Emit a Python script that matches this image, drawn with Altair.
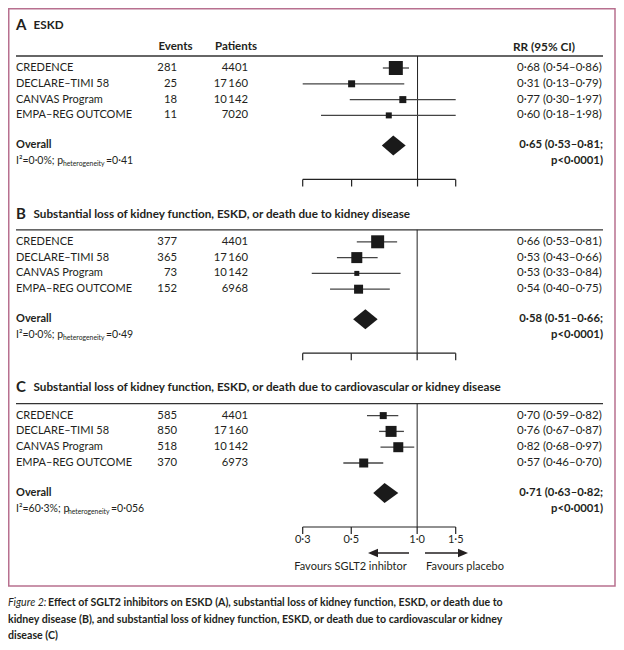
import altair as alt
import pandas as pd

# ---------------- data ----------------
studies = ["CREDENCE", "DECLARE–TIMI 58", "CANVAS Program", "EMPA–REG OUTCOME"]

a_events = [281, 25, 18, 11]
a_patients = [4401, 17160, 10142, 7020]
a_rr = [0.68, 0.31, 0.77, 0.60]
a_lo = [0.54, 0.13, 0.30, 0.18]
a_hi = [0.86, 0.79, 1.97, 1.98]
a_box = [196, 49, 49, 36]

b_events = [377, 365, 73, 152]
b_patients = [4401, 17160, 10142, 6968]
b_rr = [0.66, 0.53, 0.53, 0.54]
b_lo = [0.53, 0.43, 0.33, 0.40]
b_hi = [0.81, 0.66, 0.84, 0.75]
b_box = [169, 121, 25, 81]

c_events = [585, 850, 518, 370]
c_patients = [4401, 17160, 10142, 6973]
c_rr = [0.70, 0.76, 0.82, 0.57]
c_lo = [0.59, 0.67, 0.68, 0.46]
c_hi = [0.82, 0.87, 0.97, 0.70]
c_box = [49, 121, 100, 81]

panel_letters = ["A", "B", "C"]
panel_titles = [
    "ESKD",
    "Substantial loss of kidney function, ESKD, or death due to kidney disease",
    "Substantial loss of kidney function, ESKD, or death due to cardiovascular or kidney disease",
]
overall_rr = [0.65, 0.58, 0.71]
overall_lo = [0.53, 0.51, 0.63]
overall_hi = [0.81, 0.66, 0.82]
overall_p = ["p<0·0001)", "p<0·0001)", "p<0·0001)"]
i_squared = ["0·0%", "0·0%", "60·3%"]
p_heterogeneity = ["0·41", "0·49", "0·056"]

tick_labels = ["0·3", "0·5", "1·0", "1·5"]
ticks_bc = [0.3, 0.5, 1.0, 1.5]
ticks_a = [0.13, 0.31, 1.0, 1.97]

caption_lines = [
    "Effect of SGLT2 inhibitors on ESKD (A), substantial loss of kidney function, ESKD, or death due to",
    "kidney disease (B), and substantial loss of kidney function, ESKD, or death due to cardiovascular or kidney",
    "disease (C)",
]

# ---------------- layout / style ----------------
FONT = "Lato"
INK = "#231f20"
W, H = 608, 634
U0, UNIT = 60.0, 15.8
GAP = 11
Y = alt.Scale(domain=[-U0 / UNIT, (H - U0) / UNIT], range=[0, H], nice=False, zero=False)
XR = [294.7, 447.7]
XA = alt.Scale(type="log", domain=[ticks_a[0], ticks_a[-1]], range=XR, nice=False, clamp=True)
XBC = alt.Scale(type="log", domain=[ticks_bc[0], ticks_bc[-1]], range=XR, nice=False, clamp=True)


def dec(v):
    return f"{v:.2f}".replace(".", "·")


def num(n):
    return f"{n:,}".replace(",", "\u2009") if n >= 10000 else str(n)


panels = [
    (a_events, a_patients, a_rr, a_lo, a_hi, a_box),
    (b_events, b_patients, b_rr, b_lo, b_hi, b_box),
    (c_events, c_patients, c_rr, c_lo, c_hi, c_box),
]

row_recs, pan_recs, dia_recs, tick_recs = [], [], [], []
DIA_H = 10 / UNIT
for p, (ev, pt, rr, lo, hi, bx) in enumerate(panels):
    base = p * GAP
    for i, s in enumerate(studies):
        row_recs.append(dict(panel=p, u=base + i, study=s, events=num(ev[i]), patients=num(pt[i]),
                             rr=rr[i], lo=lo[i], hi=hi[i], box=bx[i],
                             label=f"{dec(rr[i])} ({dec(lo[i])}–{dec(hi[i])})"))
    tv = ticks_a if p == 0 else ticks_bc
    pan_recs.append(dict(panel=p, base=base,
                         u_title=base + (-2.72 if p == 0 else -1.78),
                         u_rule=base - 0.76, u_overall=base + 4.9, u_second=base + 5.9,
                         u_axis=base + 7.05, one=1.0, tmin=tv[0], tmax=tv[-1],
                         letter=panel_letters[p], title=panel_titles[p],
                         overall="Overall",
                         olabel=f"{dec(overall_rr[p])} ({dec(overall_lo[p])}–{dec(overall_hi[p])};",
                         op=overall_p[p],
                         i2=f"I²={i_squared[p]}; p", sub="heterogeneity", ph=f"={p_heterogeneity[p]}"))
    dia_recs += [
        dict(panel=p, x=overall_lo[p], y=base + 4.9, y2=base + 4.9),
        dict(panel=p, x=overall_rr[p], y=base + 4.9 - DIA_H, y2=base + 4.9 + DIA_H),
        dict(panel=p, x=overall_hi[p], y=base + 4.9, y2=base + 4.9),
    ]
    for t, lab in zip(tv, tick_labels):
        tick_recs.append(dict(panel=p, t=t, label=lab, u_axis=base + 7.05, u_tick=base + 7.5,
                              u_label=base + 7.87))

rows = pd.DataFrame(row_recs)
pans = pd.DataFrame(pan_recs)
dias = pd.DataFrame(dia_recs)
ticks = pd.DataFrame(tick_recs)


def ey(f):
    return alt.Y(f"{f}:Q", scale=Y, axis=None)


def forest(sel, xs):
    r = rows[rows.panel.isin(sel)]
    pn = pans[pans.panel.isin(sel)]
    d = dias[dias.panel.isin(sel)]
    tk = ticks[ticks.panel.isin(sel)]

    def X(f):
        return alt.X(f"{f}:Q", scale=xs, axis=None)

    return [
        alt.Chart(pn).mark_rule(color="#222", strokeWidth=1).encode(x=X("one"), y=ey("u_rule"), y2="u_axis:Q"),
        alt.Chart(pn).mark_rule(color="#222", strokeWidth=1.2).encode(x=X("tmin"), x2="tmax:Q", y=ey("u_axis")),
        alt.Chart(tk).mark_rule(color="#222", strokeWidth=1.2).encode(x=X("t"), y=ey("u_axis"), y2="u_tick:Q"),
        alt.Chart(r).mark_rule(color="#444", strokeWidth=1.3).encode(x=X("lo"), x2="hi:Q", y=ey("u")),
        alt.Chart(r).mark_square(color="#1a1a1a", opacity=1, strokeWidth=0).encode(
            x=X("rr"), y=ey("u"), size=alt.Size("box:Q", scale=None, legend=None)),
        alt.Chart(d).mark_area(color="#1a1a1a", orient="vertical").encode(
            x=X("x"), y=alt.Y("y:Q", scale=Y, axis=None, stack=None), y2="y2:Q", detail="panel:N"),
    ]


def txt(df, field, x, yf, align="left", bold=False, size=11, italic=False, color=INK, dy=0):
    kw = dict(align=align, baseline="middle", font=FONT, fontSize=size,
              fontWeight="bold" if bold else "normal", color=color)
    if italic:
        kw["fontStyle"] = "italic"
    if dy:
        kw["dy"] = dy
    return alt.Chart(df).mark_text(**kw).encode(x=alt.value(x), y=ey(yf), text=f"{field}:N")


header = pd.DataFrame([dict(u=-1.33, ev="Events", pt="Patients", rr="RR (95% CI)")])

layers = []
# frame
layers.append(alt.Chart(header).mark_rect(fillOpacity=0, stroke="#b8708f", strokeWidth=1.5).encode(
    x=alt.value(0.75), x2=alt.value(607), y=alt.value(0.75), y2=alt.value(578)))
# header rules
layers.append(alt.Chart(pans).mark_rule(color="#333", strokeWidth=1.3).encode(
    x=alt.value(8), x2=alt.value(595), y=ey("u_rule")))
layers += forest([0], XA)
layers += forest([1, 2], XBC)

# titles
layers.append(txt(pans, "letter", 8, "u_title", bold=True, size=15))
layers.append(txt(pans, "title", 25.5, "u_title", bold=True, size=11.7))
# column headers
layers.append(txt(header, "ev", 167.5, "u", align="center", bold=True, size=11.5))
layers.append(txt(header, "pt", 228, "u", align="center", bold=True, size=11.5))
layers.append(txt(header, "rr", 505, "u", bold=True, size=11.8))
# rows
layers.append(txt(rows, "study", 8, "u"))
layers.append(txt(rows, "events", 169, "u", align="right", size=11.3))
layers.append(txt(rows, "patients", 240, "u", align="right", size=11.3))
layers.append(txt(rows, "label", 509, "u", size=11.5))
# overall
layers.append(txt(pans, "overall", 8, "u_overall", bold=True))
layers.append(txt(pans, "olabel", 595, "u_overall", align="right", bold=True, size=11.3))
layers.append(txt(pans, "op", 595, "u_second", align="right", bold=True, size=11.3))
for p, (sx, mx) in enumerate([(55, 98), (55, 98), (60, 103)]):
    one = pans[pans.panel == p]
    layers.append(txt(one, "i2", 8, "u_second", size=10.5))
    layers.append(txt(one, "sub", sx, "u_second", size=6.8, dy=3))
    layers.append(txt(one, "ph", mx, "u_second", size=10.5))

# tick labels (panel C)
tkc = ticks[ticks.panel == 2]
layers.append(alt.Chart(tkc).mark_text(align="center", baseline="middle", font=FONT, fontSize=11, color=INK).encode(
    x=alt.X("t:Q", scale=XBC, axis=None), y=ey("u_label"), text="label:N"))

# favours arrows
fav = pd.DataFrame([dict(u=2 * GAP + 8.7, ut=2 * GAP + 9.58, l="Favours SGLT2 inhibtor", r="Favours placebo")])
layers.append(alt.Chart(fav).mark_rule(color=INK, strokeWidth=1.5).encode(x=alt.value(401), x2=alt.value(364), y=ey("u")))
layers.append(alt.Chart(fav).mark_rule(color=INK, strokeWidth=1.5).encode(x=alt.value(417), x2=alt.value(456), y=ey("u")))
layers.append(alt.Chart(fav).mark_point(shape="M -1 0 L 1 -0.85 L 1 0.85 Z", filled=True, size=100, color=INK, opacity=1).encode(
    x=alt.value(365), y=ey("u")))
layers.append(alt.Chart(fav).mark_point(shape="M 1 0 L -1 -0.85 L -1 0.85 Z", filled=True, size=100, color=INK, opacity=1).encode(
    x=alt.value(455), y=ey("u")))
layers.append(txt(fav, "l", 342.5, "ut", align="center"))
layers.append(txt(fav, "r", 457, "ut", align="center"))

# caption
cap_y = [595, 612, 628]
cap = pd.DataFrame([dict(k=i, s=s) for i, s in enumerate(caption_lines)])
capfont = "Liberation Sans Narrow, Lato"
layers.append(alt.Chart(cap[cap.k == 0]).mark_text(align="left", baseline="middle", font=capfont, fontSize=10.6,
                                                   fontStyle="italic", color=INK, text="Figure 2:").encode(
    x=alt.value(0), y=alt.value(cap_y[0])))
for i in range(len(caption_lines)):
    layers.append(alt.Chart(cap[cap.k == i]).mark_text(align="left", baseline="middle", font=capfont, fontSize=10.6,
                                                       fontWeight="bold", color=INK).encode(
        x=alt.value(40 if i == 0 else 0), y=alt.value(cap_y[i]), text="s:N"))

chart = alt.layer(*layers).resolve_scale(x="independent").properties(
    width=W, height=H, padding=0, autosize=alt.AutoSizeParams(type="none")
).configure_view(stroke=None)

chart.save("out.html", embed_options={"renderer": "svg", "actions": False})
